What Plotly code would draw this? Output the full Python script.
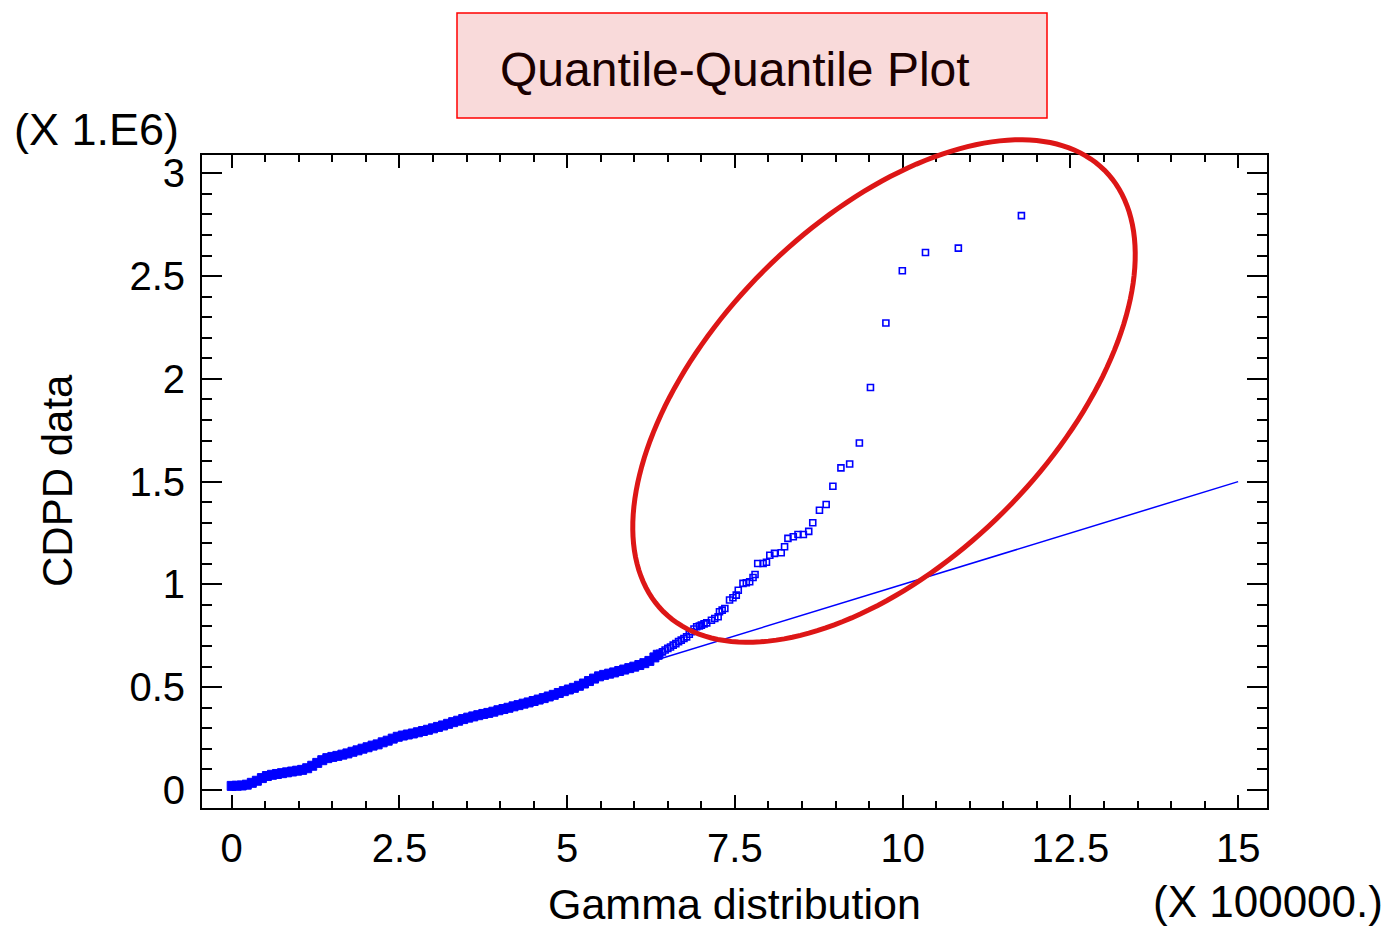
import numpy as np
import plotly.graph_objects as go

# ---------------- data (x in units of 1e5, y in units of 1e6) ----------------
dense_x = [0.00, 0.075, 0.15, 0.225, 0.30, 0.375, 0.45, 0.525, 0.60, 0.675, 0.75, 0.825,
           0.90, 0.975, 1.05, 1.125, 1.20, 1.275, 1.35, 1.425, 1.50, 1.575, 1.65, 1.725,
           1.80, 1.875, 1.95, 2.025, 2.10, 2.175, 2.25, 2.325, 2.40, 2.475, 2.55, 2.625,
           2.70, 2.775, 2.85, 2.925, 3.00, 3.075, 3.15, 3.225, 3.30, 3.375, 3.45, 3.525,
           3.60, 3.675, 3.75, 3.825, 3.90, 3.975, 4.05, 4.125, 4.20, 4.275, 4.35, 4.425,
           4.50, 4.575, 4.65, 4.725, 4.80, 4.875, 4.95, 5.025, 5.10, 5.175, 5.25, 5.325,
           5.40, 5.475, 5.55, 5.625, 5.70, 5.775, 5.85, 5.925, 6.00, 6.075, 6.15, 6.225,
           6.30, 6.35]
dense_y = [0.020, 0.021, 0.022, 0.026, 0.035, 0.045, 0.058, 0.068, 0.074, 0.078, 0.082, 0.086,
           0.090, 0.094, 0.098, 0.106, 0.118, 0.132, 0.145, 0.155, 0.161, 0.166, 0.172, 0.178,
           0.186, 0.193, 0.201, 0.208, 0.216, 0.222, 0.232, 0.240, 0.250, 0.259, 0.265, 0.270,
           0.275, 0.281, 0.287, 0.293, 0.300, 0.307, 0.314, 0.322, 0.330, 0.337, 0.345, 0.352,
           0.358, 0.364, 0.370, 0.375, 0.381, 0.388, 0.394, 0.400, 0.407, 0.413, 0.420, 0.426,
           0.433, 0.440, 0.447, 0.455, 0.463, 0.472, 0.481, 0.489, 0.497, 0.507, 0.518, 0.530,
           0.542, 0.553, 0.560, 0.566, 0.572, 0.579, 0.586, 0.593, 0.600, 0.608, 0.617, 0.628,
           0.645, 0.658]

tail_x = [6.38, 6.42, 6.46, 6.50, 6.54, 6.58, 6.62, 6.66, 6.70, 6.74, 6.78, 6.82, 6.85,
          6.89, 6.93, 6.97, 7.00, 7.04, 7.08, 7.15, 7.20, 7.25, 7.27, 7.31, 7.35,
          7.42, 7.47, 7.52, 7.55, 7.62, 7.67, 7.72, 7.77, 7.80, 7.84, 7.92, 7.97, 8.02, 8.09,
          8.19, 8.24, 8.29, 8.37, 8.44, 8.52, 8.60, 8.66, 8.76, 8.86, 8.96, 9.08, 9.21, 9.355,
          9.52, 9.75, 9.995, 10.34, 10.83, 11.77]
tail_y = [0.665, 0.672, 0.681, 0.689, 0.696, 0.705, 0.712, 0.722, 0.729, 0.737, 0.745, 0.758,
          0.770, 0.783, 0.794, 0.798, 0.802, 0.808, 0.813, 0.826, 0.834, 0.843, 0.867, 0.875,
          0.883, 0.924, 0.935, 0.948, 0.972, 1.005, 1.008, 1.013, 1.034, 1.048, 1.102, 1.102,
          1.108, 1.142, 1.151, 1.154, 1.183, 1.224, 1.232, 1.243, 1.243, 1.258, 1.300, 1.361,
          1.389, 1.478, 1.567, 1.586, 1.688, 1.958, 2.272, 2.526, 2.615, 2.636, 2.794]

fit_x = [0.0, 15.0]
fit_y = [0.0, 1.5]

x_tickvals = [0, 2.5, 5, 7.5, 10, 12.5, 15]
x_ticktext = ["0", "2.5", "5", "7.5", "10", "12.5", "15"]
y_tickvals = [0, 0.5, 1, 1.5, 2, 2.5, 3]
y_ticktext = ["0", "0.5", "1", "1.5", "2", "2.5", "3"]

# ---------------- layout geometry ----------------
W, H = 1390, 929
ML, MR, MT, MB = 202, 123, 155, 121
PW, PH = W - ML - MR, H - MT - MB

def to_paper(px, py):
    return (px - ML) / PW, (H - MB - py) / PH

BLUE = "#0000ff"
FONT = "Liberation Sans, Arial, Helvetica, sans-serif"

fig = go.Figure()
fig.add_trace(go.Scatter(x=fit_x, y=fit_y, mode="lines",
                         line=dict(color=BLUE, width=1.5), hoverinfo="skip"))
fig.add_trace(go.Scatter(x=dense_x, y=dense_y, mode="markers",
                         marker=dict(symbol="square", size=9, color=BLUE,
                                     line=dict(color=BLUE, width=1))))
fig.add_trace(go.Scatter(x=tail_x, y=tail_y, mode="markers",
                         marker=dict(symbol="square-open", size=6, color=BLUE,
                                     line=dict(color=BLUE, width=1.6))))

axis_common = dict(showgrid=False, zeroline=False, showline=True, linecolor="black",
                   linewidth=2, mirror="ticks", ticks="inside", tickcolor="black",
                   tickwidth=2, tickfont=dict(family=FONT, size=40, color="black"))

fig.update_xaxes(range=[-0.4425, 15.43], tickvals=x_tickvals, ticktext=x_ticktext,
                 ticklen=13, ticklabelstandoff=4,
                 minor=dict(ticks="inside", dtick=0.5, tick0=0, ticklen=7,
                            tickwidth=2, tickcolor="black"),
                 **axis_common)
fig.update_yaxes(range=[-0.0875, 3.089], tickvals=y_tickvals, ticktext=y_ticktext,
                 ticklen=20, ticklabelstandoff=7,
                 minor=dict(ticks="inside", dtick=0.1, tick0=0, ticklen=10,
                            tickwidth=2, tickcolor="black"),
                 **axis_common)

# title box
x0, y0 = to_paper(457, 118)
x1, y1 = to_paper(1047, 13)
shapes = [dict(type="rect", xref="paper", yref="paper", x0=x0, y0=y0, x1=x1, y1=y1,
               fillcolor="#f9dada", line=dict(color="#ff0000", width=1.5), layer="below")]

# hand-drawn red ellipse annotation (pixel space -> paper)
cx, cy, a, b, th = 884, 391, 312, 170, np.deg2rad(45)
t = np.linspace(0, 2 * np.pi, 181)
ex = cx + a * np.cos(t) * np.cos(th) - b * np.sin(t) * np.sin(th)
ey = cy - (a * np.cos(t) * np.sin(th) + b * np.sin(t) * np.cos(th))
pts = [to_paper(px, py) for px, py in zip(ex, ey)]
path = "M " + " L ".join(f"{px:.5f},{py:.5f}" for px, py in pts) + " Z"
shapes.append(dict(type="path", xref="paper", yref="paper", path=path,
                   line=dict(color="#dd1616", width=5), layer="above"))

def ann(text, px, py, size, xanchor="center", angle=0, color="black"):
    x, y = to_paper(px, py)
    return dict(text=text, x=x, y=y, xref="paper", yref="paper", showarrow=False,
                xanchor=xanchor, yanchor="middle", textangle=angle,
                font=dict(family=FONT, size=size, color=color))

annotations = [
    ann("Quantile-Quantile Plot", 734.5, 70, 48, color="#1a0000"),
    ann("Gamma distribution", 734.5, 904, 43),
    ann("(X 100000.)", 1385, 901, 44, xanchor="right"),
    ann("(X 1.E6)", 12, 130, 45, xanchor="left"),
    ann("CDPD data", 57, 481, 42, angle=-90),
]

fig.update_layout(width=W, height=H, margin=dict(l=ML, r=MR, t=MT, b=MB),
                  plot_bgcolor="white", paper_bgcolor="white", showlegend=False,
                  shapes=shapes, annotations=annotations)

fig.write_html("out.html")
